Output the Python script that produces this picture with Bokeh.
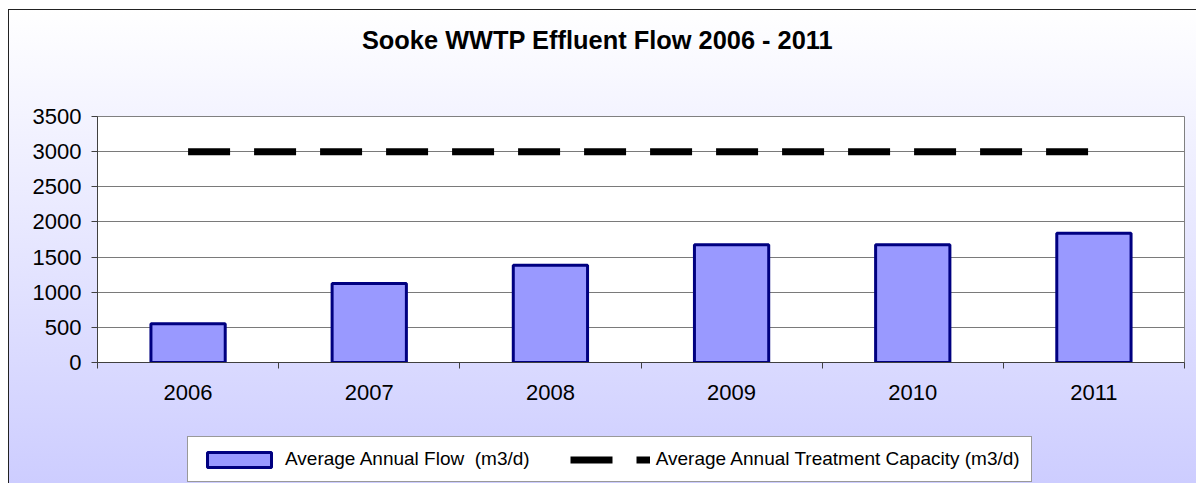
from bokeh.plotting import figure
from bokeh.layouts import column
from bokeh.models import Range1d, FixedTicker, Legend, LegendItem, ColumnDataSource, Label
from bokeh.embed import file_html
from bokeh.resources import INLINE

years = ["2006", "2007", "2008", "2009", "2010", "2011"]
flow = [550, 1125, 1385, 1675, 1675, 1840]
capacity = [3000, 3000, 3000, 3000, 3000, 3000]
y_ticks = [0, 500, 1000, 1500, 2000, 2500, 3000, 3500]
title_text = "Sooke WWTP Effluent Flow 2006 - 2011"
flow_label = "Average Annual Flow  (m3/d)"
cap_label = "Average Annual Treatment Capacity (m3/d)"

xc = [i + 0.5 for i in range(len(years))]
src = ColumnDataSource(dict(x=xc, flow=flow, cap=capacity))

FONT = "Liberation Sans"
BAR_FILL = "#9999FF"
BAR_LINE = "#000080"

W = 1196
LEFT = 97      # frame left edge (all strips share it)
RIGHT = 12     # space right of the frame


def bare(h):
    f = figure(width=W, height=h, output_backend="svg", toolbar_location=None,
               x_axis_location=None, y_axis_location=None,
               min_border_left=LEFT, min_border_right=RIGHT,
               min_border_top=0, min_border_bottom=0,
               x_range=Range1d(100, 101), y_range=Range1d(0, 1))
    f.title = None
    f.grid.visible = False
    f.outline_line_color = None
    f.background_fill_color = None
    f.border_fill_color = None
    return f


# ---- title strip ----
H0 = 90
p0 = bare(H0)
p0.add_layout(Label(x=597 - LEFT, y=H0 - 39, x_units="screen", y_units="screen", text=title_text,
                    text_align="center", text_baseline="alphabetic",
                    text_font=FONT, text_font_size="25.4px", text_font_style="bold",
                    text_color="black"))

# ---- main chart ----
H1 = 330
p = figure(width=W, height=H1, output_backend="svg", toolbar_location=None,
           x_range=Range1d(0, len(years)), y_range=Range1d(0, 3500),
           min_border_left=LEFT, min_border_right=RIGHT, min_border_top=116 - H0,
           min_border_bottom=H0 + H1 - 362)
p.title = None
p.border_fill_color = None
p.background_fill_color = "white"
p.outline_line_color = "#808080"

bars = p.vbar(x="x", top="flow", width=0.41, source=src, fill_color=BAR_FILL,
              line_color=BAR_LINE, line_width=3)
cap = p.line(x="x", y="cap", source=src, line_color="black", line_width=7, line_dash="42 24")

p.xgrid.visible = False
p.ygrid.grid_line_color = "#7a7a7a"
p.ygrid.ticker = FixedTicker(ticks=y_ticks)

ya = p.yaxis[0]
ya.ticker = FixedTicker(ticks=y_ticks)
ya.major_tick_out = 6
ya.major_tick_in = 0
ya.minor_tick_line_color = None
ya.axis_line_color = "#404040"
ya.major_tick_line_color = "#404040"
ya.major_label_text_font = FONT
ya.major_label_text_font_size = "22px"
ya.major_label_text_color = "black"
ya.major_label_standoff = 10

xa = p.xaxis[0]
xa.ticker = FixedTicker(ticks=xc, minor_ticks=list(range(len(years) + 1)))
xa.major_label_overrides = {x: y for x, y in zip(xc, years)}
xa.major_tick_line_color = None
xa.major_tick_out = 6
xa.major_tick_in = 0
xa.minor_tick_out = 6
xa.minor_tick_in = 0
xa.minor_tick_line_color = "#404040"
xa.axis_line_color = "#404040"
xa.major_label_text_font = FONT
xa.major_label_text_font_size = "22px"
xa.major_label_text_color = "black"
xa.major_label_standoff = 16

# ---- legend strip ----
H2 = 483 - H0 - H1
p2 = bare(H2)
lb = p2.vbar(x="x", top="flow", width=0.41, source=src, fill_color=BAR_FILL,
             line_color=BAR_LINE, line_width=3, visible=False)
ll = p2.line(x="x", y="cap", source=src, line_color="black", line_width=7, line_dash="42 24",
             visible=False)
legend = Legend(items=[LegendItem(label=flow_label, renderers=[lb]),
                       LegendItem(label=cap_label, renderers=[ll])],
                orientation="horizontal", location=(187 - LEFT, 1),
                glyph_width=80, glyph_height=19, label_standoff=6, spacing=40, padding=11,
                margin=0, inactive_fill_alpha=0.0,
                label_text_font=FONT, label_text_font_size="19px", label_text_color="black",
                border_line_color="#333333", border_line_width=1,
                background_fill_color="white", background_fill_alpha=1.0)
p2.add_layout(legend, "center")

layout = column(p0, p, p2, spacing=0, styles={"background": (
    "linear-gradient(#222222, #222222) 8px 9px / 1px 100% no-repeat, "
    "linear-gradient(#222222, #222222) 8px 9px / 100% 1px no-repeat, "
    "linear-gradient(to bottom, #FFFFFF, #CCCCFF) 8px 9px / 100% 100% no-repeat, "
    "#FFFFFF")})

open("out.html", "w").write(file_html(layout, INLINE))
